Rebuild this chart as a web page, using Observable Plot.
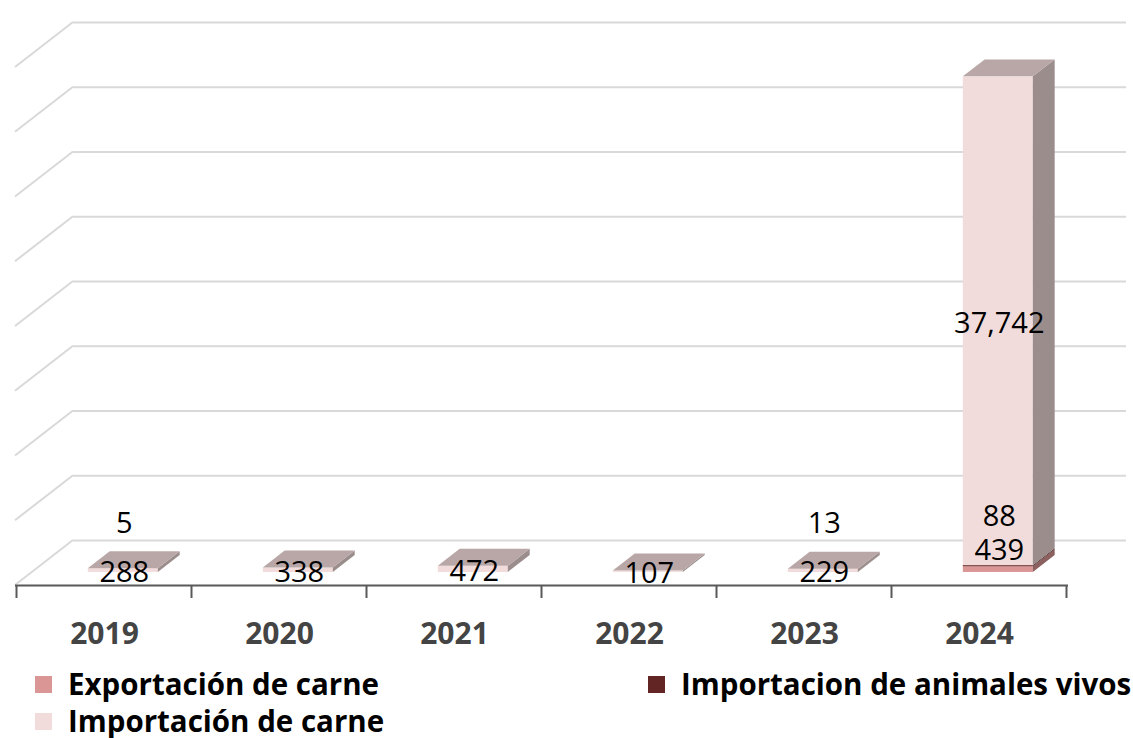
<!DOCTYPE html>
<html><head><meta charset="utf-8">
<script src="https://cdn.jsdelivr.net/npm/d3@7"></script>
<script src="https://cdn.jsdelivr.net/npm/@observablehq/plot@0.6"></script>
<style>
body{margin:0;background:#fff;font-family:'Open Sans',sans-serif;}
#chart svg{display:block;}
#legend{position:relative;height:83px;}
.item{position:absolute;display:flex;align-items:center;height:36px;line-height:36px;font-weight:700;font-size:29.5px;color:#000;white-space:nowrap;}
.sw{width:17px;height:17px;margin-right:16px;}
</style></head><body><div id="chart"></div><div id="legend"></div>
<script>
// ---- data ----
const years = ["2019", "2020", "2021", "2022", "2023", "2024"];
const exportacionCarne = [0, 0, 0, 0, 0, 439];
const importacionAnimalesVivos = [5, 0, 0, 0, 13, 88];
const importacionCarne = [288, 338, 472, 107, 229, 37742];
const seriesNames = ["Exportación de carne", "Importacion de animales vivos", "Importación de carne"];
const gridTicks = [0, 5000, 10000, 15000, 20000, 25000, 30000, 35000, 40000];

// ---- styling ----
const seriesColors = ["#D99694", "#632523", "#F2DCDB"];
const gridColor = "#D9D9D9";
const DX = 58, DY = -45;      // full depth projection
const F1 = 0.29, F2 = 0.667;  // bar front / back depth fraction
const labelShift = [-19, -49, 2];

const seriesValues = [exportacionCarne, importacionAnimalesVivos, importacionCarne];
const rows = [];
years.forEach((yr, i) => {
  let base = 0;
  seriesValues.forEach((vals, s) => {
    const v = vals[i];
    rows.push({year: yr, series: seriesNames[s], s, value: v, y1: base, y2: base + v});
    base += v;
  });
});
const visible = rows.filter(d => d.value > 0);

function shade(c, k) {
  const r = d3.rgb(c);
  return d3.rgb(r.r * k, r.g * k, r.b * k).formatHex();
}

function leftWall(index, scales) {
  const x = scales.x, y = scales.y;
  const x0 = x.range()[0];
  const g = d3.create("svg:g");
  for (const v of gridTicks) {
    g.append("line").attr("x1", x0).attr("y1", y(v)).attr("x2", x0 + DX).attr("y2", y(v) + DY)
      .attr("stroke", gridColor).attr("stroke-width", 2);
  }
  return g.node();
}

function barDepth(index, scales) {
  const x = scales.x, y = scales.y;
  const bw = x.bandwidth();
  const ddx = DX * (F2 - F1), ddy = DY * (F2 - F1);
  const g = d3.create("svg:g");
  years.forEach((yr, i) => {
    const fx0 = x(yr) + DX * F1 + 2, fx1 = fx0 + bw;
    let base = 0, topColor = null;
    seriesValues.forEach((vals, s) => {
      const v = vals[i];
      if (!v) return;
      const yb = y(base) + DY * F1, yt = y(base + v) + DY * F1;
      g.append("polygon")
        .attr("points", [[fx1, yt], [fx1 + ddx, yt + ddy], [fx1 + ddx, yb + ddy], [fx1, yb]].join(" "))
        .attr("fill", shade(seriesColors[s], 0.64));
      base += v;
      topColor = seriesColors[s];
    });
    if (topColor) {
      const yt = y(base) + DY * F1;
      g.append("polygon")
        .attr("points", [[fx0, yt], [fx1, yt], [fx1 + ddx, yt + ddy], [fx0 + ddx, yt + ddy]].join(" "))
        .attr("fill", shade(topColor, 0.76));
    }
  });
  return g.node();
}

function axisTicks(index, scales) {
  const x = scales.x, y = scales.y;
  const bw = x.bandwidth(), step = x.step();
  const pad = (step - bw) / 2;
  const bounds = years.map(yr => x(yr) - pad).concat([x(years[years.length - 1]) + bw + pad]);
  const g = d3.create("svg:g");
  for (const b of bounds) {
    g.append("line").attr("x1", b).attr("x2", b).attr("y1", y(0)).attr("y2", y(0) + 13)
      .attr("stroke", "#595959").attr("stroke-width", 2);
  }
  return g.node();
}

const fmt = d3.format(",");
const labelMarks = [0, 1, 2].map(s => Plot.text(visible.filter(d => d.s === s), {
  x: "year", y: d => (d.y1 + d.y2) / 2, text: d => fmt(d.value),
  dx: DX * F1 + 3, dy: DY * F1 + labelShift[s],
  fontSize: 29, fill: "#000", lineAnchor: "middle"
}));

const chart = Plot.plot({
  width: 1133, height: 655,
  marginLeft: 15, marginRight: 65, marginTop: 67, marginBottom: 70,
  style: {fontFamily: "'Open Sans', sans-serif", background: "#fff", overflow: "visible"},
  x: {domain: years, paddingInner: 0.6, paddingOuter: 0.3, axis: null},
  y: {domain: [0, 40000], axis: null},
  color: {domain: seriesNames, range: seriesColors},
  marks: [
    Plot.ruleY(gridTicks, {dx: DX, dy: DY, stroke: gridColor, strokeWidth: 2}),
    leftWall,
    Plot.barY(visible, {x: "year", y1: "y1", y2: "y2", fill: "series", dx: DX * F1 + 2, dy: DY * F1}),
    barDepth,
    Plot.ruleY([0], {stroke: "#595959", strokeWidth: 2}),
    axisTicks,
    Plot.axisX({tickSize: 0, tickPadding: 37, fontSize: 30, fontWeight: "bold", color: "#444", label: null}),
    ...labelMarks
  ]
});
document.getElementById("chart").appendChild(chart);

// ---- legend ----
const legendPos = [{left: 35, top: 11}, {left: 648, top: 11}, {left: 35, top: 48}];
const legend = d3.select("#legend");
seriesNames.forEach((name, s) => {
  const it = legend.append("div").attr("class", "item")
    .style("left", legendPos[s].left + "px").style("top", legendPos[s].top + "px");
  it.append("div").attr("class", "sw").style("background", seriesColors[s]);
  it.append("span").text(name);
});
</script>
</body></html>
